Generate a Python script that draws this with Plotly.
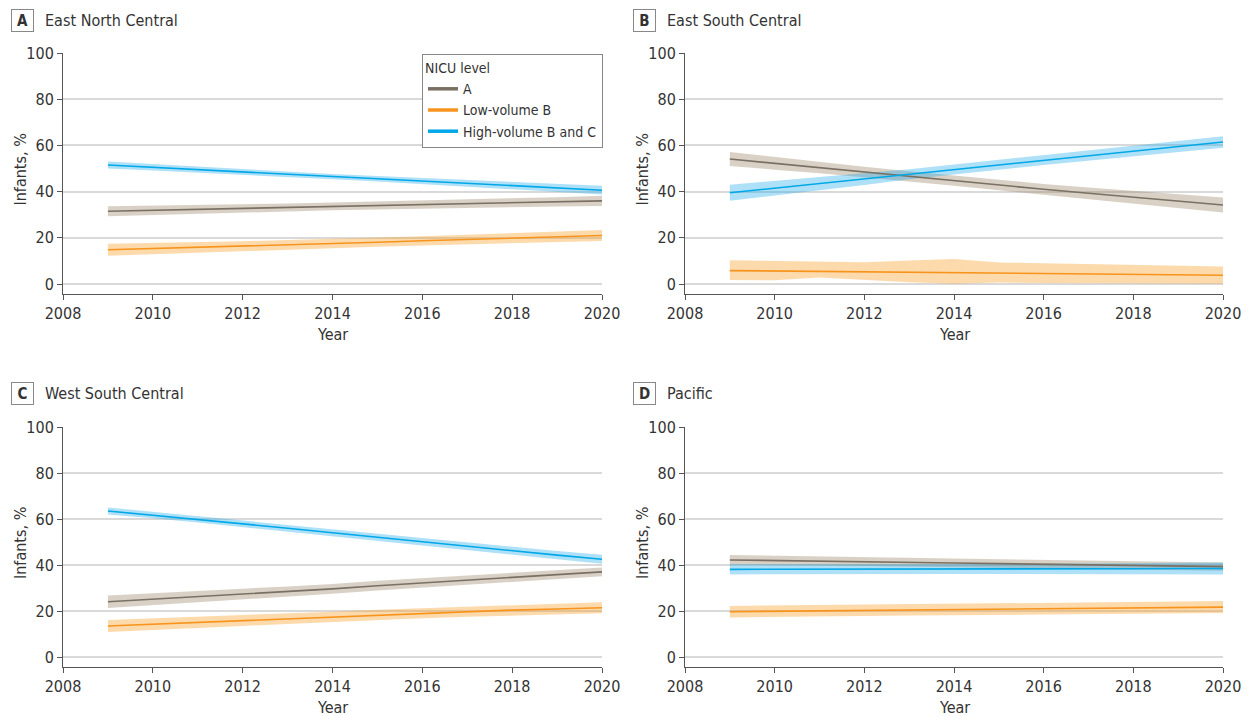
import plotly.graph_objects as go

years = [2009, 2010, 2011, 2012, 2013, 2014, 2015, 2016, 2017, 2018, 2019, 2020]
x_ticks = [2008, 2010, 2012, 2014, 2016, 2018, 2020]
y_ticks = [0, 20, 40, 60, 80, 100]
series_names = ["A", "Low-volume B", "High-volume B and C"]
panel_letters = ["A", "B", "C", "D"]
panel_titles = ["East North Central", "East South Central", "West South Central", "Pacific"]

# Panel A: East North Central
a_lvl_mean = [31.5, 31.9, 32.3, 32.7, 33.1, 33.6, 34.0, 34.4, 34.8, 35.2, 35.6, 36.0]
a_lvl_lo = [29.3, 29.9, 30.4, 30.9, 31.4, 31.9, 32.3, 32.7, 33.0, 33.3, 33.6, 33.8]
a_lvl_hi = [33.7, 33.9, 34.2, 34.5, 34.8, 35.3, 35.7, 36.1, 36.6, 37.1, 37.6, 38.2]
a_low_mean = [14.8, 15.3, 15.9, 16.4, 17.0, 17.5, 18.1, 18.7, 19.3, 19.9, 20.4, 21.0]
a_low_lo = [12.2, 12.9, 13.6, 14.3, 14.9, 15.5, 16.1, 16.7, 17.2, 17.7, 18.2, 18.6]
a_low_hi = [17.4, 17.7, 18.2, 18.5, 19.1, 19.5, 20.1, 20.7, 21.4, 22.1, 22.6, 23.4]
a_high_mean = [51.5, 50.5, 49.5, 48.5, 47.5, 46.5, 45.6, 44.6, 43.6, 42.6, 41.6, 40.6]
a_high_lo = [50.0, 49.1, 48.2, 47.3, 46.4, 45.4, 44.4, 43.3, 42.2, 41.1, 39.9, 38.7]
a_high_hi = [53.0, 51.9, 50.8, 49.7, 48.6, 47.6, 46.8, 45.9, 45.0, 44.1, 43.3, 42.5]

# Panel B: East South Central
b_lvl_mean = [54.1, 52.2, 50.3, 48.5, 46.6, 44.7, 42.8, 41.0, 39.3, 37.6, 35.9, 34.2]
b_lvl_lo = [51.1, 49.5, 47.9, 46.2, 44.4, 42.5, 40.6, 38.7, 36.8, 34.9, 32.9, 30.9]
b_lvl_hi = [57.1, 54.9, 52.7, 50.8, 48.8, 46.9, 45.0, 43.3, 41.8, 40.3, 38.9, 37.5]
b_low_mean = [5.8, 5.6, 5.5, 5.3, 5.1, 4.9, 4.7, 4.5, 4.3, 4.2, 4.0, 3.8]
b_low_lo = [1.7, 1.6, 2.8, 1.8, 0.8, 0.1, 0.6, 0.4, 0.2, 0.1, 0.1, 0.1]
b_low_hi = [10.3, 10.1, 9.6, 9.4, 10.2, 10.8, 9.3, 9.0, 8.8, 8.5, 8.0, 7.6]
b_high_mean = [39.5, 41.5, 43.4, 45.4, 47.5, 49.6, 51.6, 53.7, 55.7, 57.7, 59.6, 61.5]
b_high_lo = [36.0, 38.3, 40.6, 42.9, 45.3, 47.5, 49.5, 51.5, 53.5, 55.4, 57.2, 59.0]
b_high_hi = [43.0, 44.7, 46.2, 47.9, 49.7, 51.7, 53.7, 55.9, 57.9, 60.0, 62.0, 64.0]

# Panel C: West South Central
c_lvl_mean = [24.0, 25.1, 26.2, 27.4, 28.5, 29.6, 31.0, 32.3, 33.4, 34.6, 35.8, 37.0]
c_lvl_lo = [21.3, 22.6, 23.8, 25.1, 26.3, 27.5, 28.9, 30.3, 31.5, 32.7, 33.9, 35.1]
c_lvl_hi = [26.7, 27.6, 28.6, 29.7, 30.7, 31.7, 33.1, 34.3, 35.3, 36.5, 37.7, 38.9]
c_low_mean = [13.5, 14.3, 15.0, 15.8, 16.6, 17.5, 18.3, 19.0, 19.7, 20.4, 20.9, 21.4]
c_low_lo = [10.9, 11.8, 12.7, 13.5, 14.4, 15.3, 16.1, 16.8, 17.5, 18.1, 18.6, 19.0]
c_low_hi = [16.1, 16.8, 17.3, 18.1, 18.8, 19.7, 20.5, 21.2, 21.9, 22.7, 23.2, 23.8]
c_high_mean = [63.5, 61.7, 59.9, 58.1, 56.0, 54.0, 52.0, 50.1, 48.1, 46.2, 44.3, 42.5]
c_high_lo = [62.0, 60.3, 58.5, 56.7, 54.6, 52.5, 50.5, 48.5, 46.5, 44.5, 42.5, 40.5]
c_high_hi = [65.0, 63.1, 61.3, 59.5, 57.4, 55.5, 53.5, 51.7, 49.7, 47.9, 46.1, 44.5]

# Panel D: Pacific
d_lvl_mean = [42.2, 42.0, 41.7, 41.5, 41.2, 40.9, 40.6, 40.4, 40.1, 39.8, 39.5, 39.3]
d_lvl_lo = [40.1, 40.0, 39.8, 39.6, 39.4, 39.1, 38.9, 38.7, 38.4, 38.1, 37.8, 37.5]
d_lvl_hi = [44.3, 44.0, 43.6, 43.4, 43.0, 42.7, 42.3, 42.1, 41.8, 41.5, 41.2, 41.1]
d_low_mean = [19.7, 19.9, 20.0, 20.2, 20.4, 20.6, 20.8, 21.0, 21.2, 21.3, 21.5, 21.7]
d_low_lo = [17.2, 17.4, 17.6, 17.8, 18.0, 18.2, 18.4, 18.6, 18.8, 18.9, 19.0, 19.1]
d_low_hi = [22.2, 22.4, 22.5, 22.6, 22.8, 23.0, 23.2, 23.4, 23.6, 23.7, 24.0, 24.3]
d_high_mean = [38.1, 38.1, 38.2, 38.2, 38.2, 38.3, 38.3, 38.3, 38.4, 38.4, 38.5, 38.5]
d_high_lo = [35.9, 35.9, 36.0, 36.0, 36.0, 36.1, 36.1, 36.1, 36.1, 36.0, 36.0, 35.9]
d_high_hi = [40.3, 40.3, 40.4, 40.4, 40.4, 40.5, 40.5, 40.5, 40.7, 40.8, 41.0, 41.1]

panels = [
    [(a_lvl_mean, a_lvl_lo, a_lvl_hi), (a_low_mean, a_low_lo, a_low_hi), (a_high_mean, a_high_lo, a_high_hi)],
    [(b_lvl_mean, b_lvl_lo, b_lvl_hi), (b_low_mean, b_low_lo, b_low_hi), (b_high_mean, b_high_lo, b_high_hi)],
    [(c_lvl_mean, c_lvl_lo, c_lvl_hi), (c_low_mean, c_low_lo, c_low_hi), (c_high_mean, c_high_lo, c_high_hi)],
    [(d_lvl_mean, d_lvl_lo, d_lvl_hi), (d_low_mean, d_low_lo, d_low_hi), (d_high_mean, d_high_lo, d_high_hi)],
]

line_colors = ["#7a7063", "#f7941d", "#00a8e8"]
band_colors = ["rgba(160,140,110,0.40)", "rgba(250,157,37,0.38)", "rgba(30,170,235,0.36)"]

W, H = 1251, 717
OFF = 8  # page body margin of the html page
FONT = "Liberation Sans Narrow, DejaVu Sans Condensed, Arial Narrow, sans-serif"
TXT = "#333333"


def px(x):
    return (x - OFF) / W


def py(y):
    return 1 - (y - OFF) / H


# pixel layout (screen pixels)
x_left = [63, 685, 63, 685]
x_right = [602, 1223, 602, 1223]
y_top = [53, 53, 427, 427]
y_bot = [294, 294, 667, 667]
y_zero = [284, 284, 657, 657]

fig = go.Figure()
layout_axes = {}
annotations = []
for i in range(4):
    xa = "x" if i == 0 else f"x{i+1}"
    ya = "y" if i == 0 else f"y{i+1}"
    xkey = "xaxis" if i == 0 else f"xaxis{i+1}"
    ykey = "yaxis" if i == 0 else f"yaxis{i+1}"
    for s in range(3):
        mean, lo, hi = panels[i][s]
        fig.add_trace(go.Scatter(
            x=years + years[::-1], y=hi + lo[::-1], mode="lines",
            fill="toself", fillcolor=band_colors[s], line=dict(width=0),
            hoverinfo="skip", showlegend=False, xaxis=xa, yaxis=ya))
    for s in range(3):
        mean, lo, hi = panels[i][s]
        fig.add_trace(go.Scatter(
            x=years, y=mean, mode="lines", name=series_names[s],
            line=dict(color=line_colors[s], width=1.6),
            showlegend=False, xaxis=xa, yaxis=ya))
    pxu = (y_zero[i] - y_top[i]) / 100.0
    ymin = -(y_bot[i] - y_zero[i]) / pxu
    layout_axes[xkey] = dict(
        domain=[px(x_left[i]), px(x_right[i])], range=[2008, 2020],
        tickvals=x_ticks, ticks="outside", ticklen=5, tickcolor="#555555",
        showline=True, linecolor="#555555", linewidth=1, showgrid=False,
        zeroline=False, anchor=ya, automargin=False,
        tickfont=dict(family=FONT, size=16, color=TXT))
    layout_axes[ykey] = dict(
        domain=[py(y_bot[i]), py(y_top[i])], range=[ymin, 100],
        tickvals=y_ticks, ticks="outside", ticklen=5, tickcolor="#555555",
        showline=True, linecolor="#555555", linewidth=1,
        showgrid=True, gridcolor="#d9d9d9", gridwidth=1.5,
        zeroline=False, anchor=xa, automargin=False,
        tickfont=dict(family=FONT, size=16, color=TXT))
    # axis titles
    annotations.append(dict(
        text="Year", x=px((x_left[i] + x_right[i]) / 2), y=py(y_bot[i] + 40),
        xref="paper", yref="paper", xanchor="center", yanchor="middle",
        showarrow=False, font=dict(family=FONT, size=16, color=TXT)))
    annotations.append(dict(
        text="Infants, %", x=px(x_left[i] - 43), y=py((y_top[i] + y_bot[i]) / 2 - 4),
        xref="paper", yref="paper", xanchor="center", yanchor="middle",
        textangle=-90, showarrow=False, font=dict(family=FONT, size=16, color=TXT)))

# legend entries (thicker key lines, as in the reference legend)
for s in range(3):
    fig.add_trace(go.Scatter(
        x=[None], y=[None], mode="lines", name=series_names[s],
        line=dict(color=line_colors[s], width=3.5), showlegend=True,
        xaxis="x", yaxis="y"))

box_x = [11, 633, 11, 633]
box_y = [9, 9, 382, 382]
for i in range(4):
    annotations.append(dict(
        text=f"<b>{panel_letters[i]}</b>", x=px(box_x[i]), y=py(box_y[i]),
        xref="paper", yref="paper", xanchor="left", yanchor="top",
        showarrow=False, width=21, height=21, bordercolor="#888888", borderwidth=1,
        borderpad=0, font=dict(family=FONT, size=15, color=TXT)))
    annotations.append(dict(
        text=panel_titles[i], x=px(box_x[i] + 32), y=py(box_y[i] + 11.5),
        xref="paper", yref="paper", xanchor="left", yanchor="middle",
        showarrow=False, font=dict(family=FONT, size=16, color=TXT)))

fig.update_layout(
    width=W, height=H, margin=dict(l=0, r=0, t=0, b=0, autoexpand=False),
    paper_bgcolor="white", plot_bgcolor="white",
    annotations=annotations,
    legend=dict(
        title=dict(text="NICU level", font=dict(family=FONT, size=14, color=TXT)),
        x=px(603), y=py(54), xanchor="right", yanchor="top",
        bordercolor="#888888", borderwidth=1, bgcolor="white",
        font=dict(family=FONT, size=14, color=TXT), itemwidth=30,
        tracegroupgap=0),
    **layout_axes)

fig.write_html("out.html")
